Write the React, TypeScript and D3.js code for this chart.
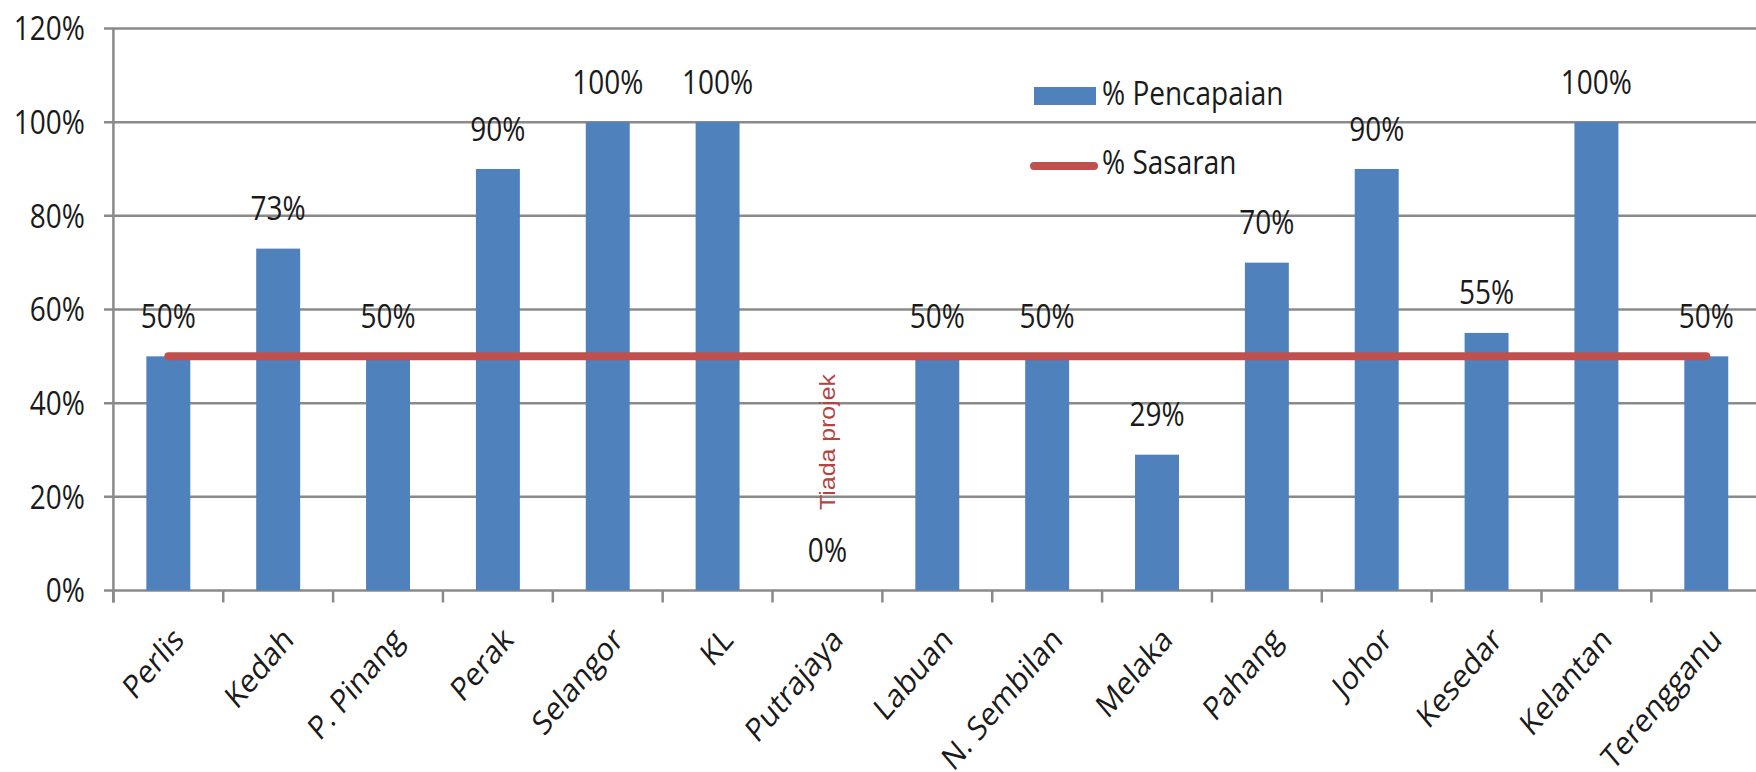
import React from "react";
import * as d3 from "d3";

const categories = [
  "Perlis", "Kedah", "P. Pinang", "Perak", "Selangor", "KL", "Putrajaya",
  "Labuan", "N. Sembilan", "Melaka", "Pahang", "Johor", "Kesedar", "Kelantan", "Terengganu",
];
// % Pencapaian per state
const achievement = [50, 73, 50, 90, 100, 100, 0, 50, 50, 29, 70, 90, 55, 100, 50];
// % Sasaran per state
const target = [50, 50, 50, 50, 50, 50, 50, 50, 50, 50, 50, 50, 50, 50, 50];
const yTicks = [0, 20, 40, 60, 80, 100, 120];
const noProjectCategory = "Putrajaya";
const noProjectNote = "Tiada projek";

const W = 1756;
const H = 772;
const BLUE = "#4F81BD";
const RED = "#C0504D";
const GRID = "#8a8a8a";
const INK = "#1a1a1a";
const FONT = "'Open Sans', 'Noto Sans', sans-serif";
const FS = 28;
const SY = 1.18; // tall, narrow lettering

type LabelProps = {
  x: number;
  y: number;
  anchor?: "start" | "middle" | "end";
  rotate?: number;
  children: React.ReactNode;
};

function Label({ x, y, anchor = "start", rotate = 0, children }: LabelProps) {
  return (
    <text
      transform={`translate(${x},${y}) scale(1,${SY}) rotate(${rotate})`}
      textAnchor={anchor}
      fontSize={FS}
      fill={INK}
    >
      {children}
    </text>
  );
}

export default function App() {
  const x = d3.scaleBand<string>().domain(categories).range([113.4, 1761.2]).paddingInner(0).paddingOuter(0);
  const bw = x.bandwidth();
  const barW = bw / 2.5;
  const y = d3.scaleLinear().domain([0, 120]).range([590.5, 28.5]);
  const cx = (c: string) => (x(c) as number) + bw / 2;

  const line = d3
    .line<number>()
    .x((_, i) => cx(categories[i]))
    .y((d) => y(d));

  const boundaries = categories
    .map((c) => x(c) as number)
    .concat([(x(categories[categories.length - 1]) as number) + bw]);

  return (
    <svg
      width={W}
      height={H}
      style={{ position: "absolute", left: 0, top: 0, background: "#fff" }}
      fontFamily={FONT}
    >
      {/* gridlines + y ticks */}
      {yTicks.map((t) => (
        <g key={t}>
          <line x1={104} x2={W} y1={y(t)} y2={y(t)} stroke={GRID} strokeWidth={2.5} />
          <Label x={85} y={y(t) + 11.8} anchor="end">
            {t}%
          </Label>
        </g>
      ))}
      {/* y axis */}
      <line x1={113.4} x2={113.4} y1={y(120)} y2={y(0) + 12} stroke={GRID} strokeWidth={2.5} />
      {/* x ticks */}
      {boundaries.map((b, i) => (
        <line key={i} x1={b} x2={b} y1={y(0)} y2={y(0) + 12} stroke={GRID} strokeWidth={2.5} />
      ))}

      {/* bars */}
      {categories.map((c, i) => (
        <rect
          key={c}
          x={cx(c) - barW / 2}
          y={y(achievement[i])}
          width={barW}
          height={y(0) - y(achievement[i])}
          fill={BLUE}
        />
      ))}

      {/* target line */}
      <path d={line(target) as string} fill="none" stroke={RED} strokeWidth={8} strokeLinecap="round" />

      {/* value labels */}
      {categories.map((c, i) => (
        <Label key={c} x={cx(c)} y={y(achievement[i]) - 28.5} anchor="middle">
          {achievement[i]}%
        </Label>
      ))}

      {/* note for category without project */}
      <text
        transform={`translate(${cx(noProjectCategory) + 8},442) rotate(-90)`}
        textAnchor="middle"
        fontSize={22}
        fontFamily="'Liberation Sans', Arial, sans-serif"
        fill="#B5433F"
        textLength={136}
        lengthAdjust="spacingAndGlyphs"
      >
        {noProjectNote}
      </text>

      {/* category labels */}
      {categories.map((c) => (
        <Label key={c} x={cx(c) + 17} y={y(0) + 51} anchor="end" rotate={-45}>
          {c}
        </Label>
      ))}

      {/* legend */}
      <rect x={1034} y={87} width={62} height={18} fill={BLUE} />
      <Label x={1102} y={105}>% Pencapaian</Label>
      <line x1={1034} x2={1094} y1={166} y2={166} stroke={RED} strokeWidth={8} strokeLinecap="round" />
      <Label x={1102} y={174}>% Sasaran</Label>
    </svg>
  );
}
